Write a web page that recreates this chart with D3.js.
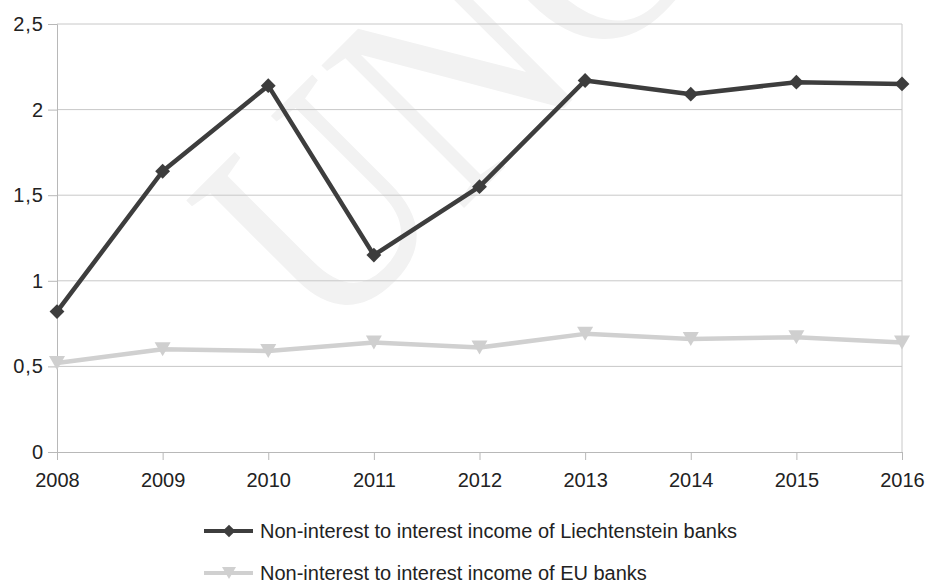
<!DOCTYPE html>
<html>
<head>
<meta charset="utf-8">
<script src="https://cdn.jsdelivr.net/npm/d3@7"></script>
<style>
  body { margin: 0; background: #fff; }
  svg { display: block; font-family: "Liberation Sans", Arial, sans-serif; }
</style>
</head>
<body>
<svg id="chart" width="926" height="584"></svg>
<script>
const years = [2008, 2009, 2010, 2011, 2012, 2013, 2014, 2015, 2016];
const liechtenstein = [0.82, 1.64, 2.14, 1.15, 1.55, 2.17, 2.09, 2.16, 2.15];
const euBanks = [0.52, 0.60, 0.59, 0.64, 0.61, 0.69, 0.66, 0.67, 0.64];
const yTicks = [0, 0.5, 1, 1.5, 2, 2.5];
const seriesNames = [
    "Non-interest to interest income of Liechtenstein banks",
    "Non-interest to interest income of EU banks"
];

const svg = d3.select("#chart");
const plotLeft = 57, plotRight = 902, plotTop = 24, plotBottom = 452;

const x = d3.scalePoint().domain(years).range([plotLeft, plotRight]);
const y = d3.scaleLinear().domain([0, 2.5]).range([plotBottom, plotTop]);

const fmt = v => String(v).replace(".", ",");

// faint watermark behind the plot
svg.append("text")
    .attr("transform", "translate(325,347) rotate(-45) scale(0.85,1)")
    .attr("font-family", "Liberation Serif")
    .attr("font-size", 308)
    .attr("fill", "#f2f2f2")
    .text("UNCORRECTED PROOF");

// gridlines
svg.append("g")
    .selectAll("line")
    .data(yTicks.filter(d => d > 0))
    .join("line")
    .attr("x1", plotLeft).attr("x2", plotRight)
    .attr("y1", d => y(d)).attr("y2", d => y(d))
    .attr("stroke", "#c8c8c8");

// right border
svg.append("line")
    .attr("x1", plotRight).attr("x2", plotRight)
    .attr("y1", plotTop).attr("y2", plotBottom)
    .attr("stroke", "#c8c8c8");

const yAxis = svg.append("g")
    .attr("transform", `translate(${plotLeft},0)`)
    .call(d3.axisLeft(y).tickValues(yTicks).tickFormat(fmt).tickSize(9).tickPadding(4));

const xAxis = svg.append("g")
    .attr("transform", `translate(0,${plotBottom})`)
    .call(d3.axisBottom(x).tickSize(8).tickPadding(13));

for (const ax of [yAxis, xAxis]) {
    ax.select(".domain").attr("stroke", "#b8b8b8");
    ax.selectAll(".tick line").attr("stroke", "#b8b8b8");
    ax.selectAll(".tick text")
        .attr("font-size", 20)
        .attr("font-family", "Liberation Sans, Arial, sans-serif")
        .attr("fill", "#222");
}
yAxis.selectAll(".tick text").attr("letter-spacing", 1);

const line = d3.line().x((d, i) => x(years[i])).y(d => y(d));

const diamond = d3.symbol().type(d3.symbolSquare).size(110);
const triangle = "M-8,-7L8,-7L0,7Z";

// EU series
svg.append("path")
    .datum(euBanks)
    .attr("d", line)
    .attr("fill", "none")
    .attr("stroke", "#d0d0d0")
    .attr("stroke-width", 4.5)
    .attr("stroke-linejoin", "round");

svg.append("g")
    .selectAll("path")
    .data(euBanks)
    .join("path")
    .attr("d", triangle)
    .attr("transform", (d, i) => `translate(${x(years[i])},${y(d)})`)
    .attr("fill", "#cfcfcf");

// Liechtenstein series
svg.append("path")
    .datum(liechtenstein)
    .attr("d", line)
    .attr("fill", "none")
    .attr("stroke", "#3d3d3d")
    .attr("stroke-width", 4.5)
    .attr("stroke-linejoin", "round");

svg.append("g")
    .selectAll("path")
    .data(liechtenstein)
    .join("path")
    .attr("d", diamond)
    .attr("transform", (d, i) => `translate(${x(years[i])},${y(d)}) rotate(45)`)
    .attr("fill", "#3d3d3d");

// legend
const legend = svg.append("g");
const legendRows = [
    { name: seriesNames[0], color: "#3d3d3d", mark: "diamond" },
    { name: seriesNames[1], color: "#d0d0d0", mark: "triangle" }
];
legendRows.forEach((r, i) => {
    const g = legend.append("g").attr("transform", `translate(204,${531 + i * 42})`);
    g.append("line")
        .attr("x1", 0).attr("x2", 49)
        .attr("stroke", r.color).attr("stroke-width", 4);
    g.append("path")
        .attr("d", r.mark === "diamond" ? d3.symbol().type(d3.symbolSquare).size(80)() : "M-7,-6L7,-6L0,6Z")
        .attr("transform", r.mark === "diamond" ? "translate(25,0) rotate(45)" : "translate(25,0)")
        .attr("fill", r.color);
    g.append("text")
        .attr("x", 56)
        .attr("dy", "0.35em")
        .attr("font-size", 20)
        .attr("fill", "#222")
        .text(r.name);
});
</script>
</body>
</html>
